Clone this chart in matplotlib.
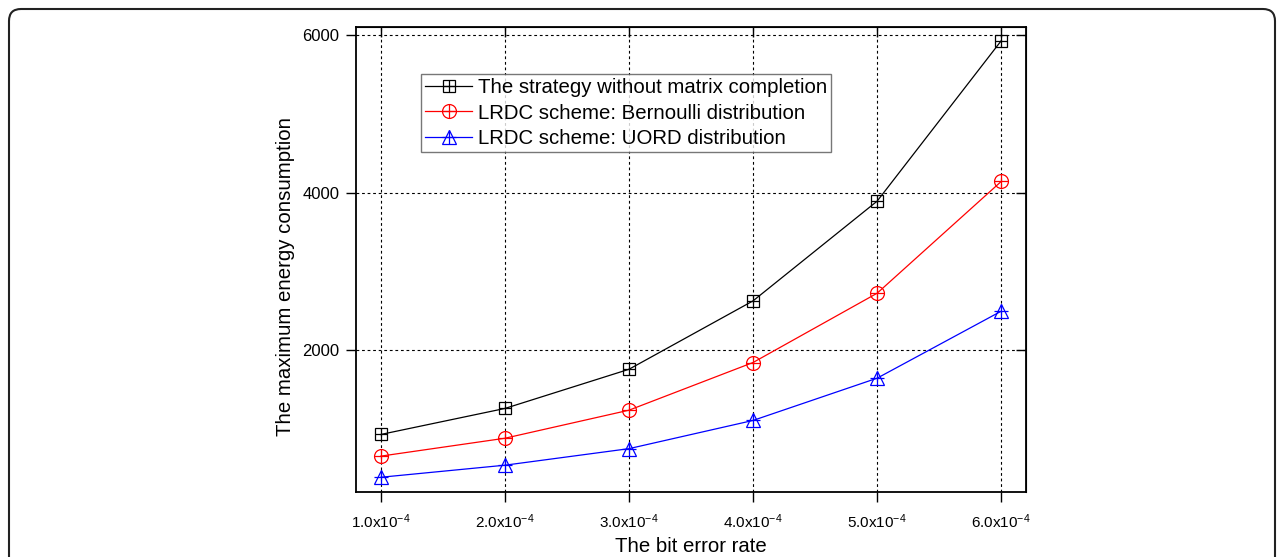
import matplotlib
matplotlib.use("Agg")
import matplotlib.pyplot as plt
from matplotlib.patches import FancyBboxPatch
from matplotlib.legend_handler import HandlerTuple

# ---- data ----
ber = [1.0e-4, 2.0e-4, 3.0e-4, 4.0e-4, 5.0e-4, 6.0e-4]
xtick_labels = [r"1.0x10$^{-4}$", r"2.0x10$^{-4}$", r"3.0x10$^{-4}$",
                r"4.0x10$^{-4}$", r"5.0x10$^{-4}$", r"6.0x10$^{-4}$"]
no_completion = [930, 1260, 1757, 2625, 3890, 5925]
bernoulli = [655, 882, 1238, 1843, 2722, 4140]
uord = [387, 540, 750, 1108, 1644, 2494]
series_names = ["The strategy without matrix completion",
                "LRDC scheme: Bernoulli distribution",
                "LRDC scheme: UORD distribution"]
ytick_vals = [2000, 4000, 6000]

plt.rcParams['font.family'] = ['Liberation Sans', 'DejaVu Sans']
plt.rcParams['mathtext.default'] = 'regular'

fig = plt.figure(figsize=(12.84, 5.57), dpi=100)
ax = fig.add_axes([356/1284, 65/557, (1026-356)/1284, (492-27)/557])

styles = [
    (no_completion, 'black', 's', 8.5),
    (bernoulli, 'red', 'o', 10),
    (uord, 'blue', '^', 10.5),
]
handles = []
for (vals, col, mk, ms) in styles:
    l1, = ax.plot(ber, vals, color=col, lw=0.9, marker=mk, ms=ms,
                  markerfacecolor='none', markeredgecolor=col, markeredgewidth=0.9, zorder=3)
    l2, = ax.plot(ber, vals, linestyle='none', marker='+', ms=ms, color=col,
                  markeredgewidth=0.9, zorder=4)
    handles.append((l1, l2))

ax.set_xlim(0.8e-4, 6.2e-4)
ax.set_ylim(200, 6100)
ax.set_xticks(ber)
ax.set_xticklabels(xtick_labels, fontsize=11)
ax.set_yticks(ytick_vals)
ax.set_yticklabels([str(v) for v in ytick_vals], fontsize=12)
ax.tick_params(direction='out', length=7, width=1.0)
ax.tick_params(axis='x', pad=8)
ax.tick_params(axis='y', pad=5)
ax.grid(True, color='black', linestyle=(0, (2.5, 2.5)), linewidth=0.8)
for s in ax.spines.values():
    s.set_linewidth(1.3)

top = ax.secondary_xaxis('top')
top.set_xticks(ber)
top.tick_params(direction='in', length=7, width=1.0, labeltop=False)
right = ax.secondary_yaxis('right')
right.set_yticks(ytick_vals)
right.tick_params(direction='in', length=7, width=1.0, labelright=False)

ax.set_xlabel("The bit error rate", fontsize=14.7)
ax.xaxis.set_label_coords(0.5, -0.097)
ax.set_ylabel("The maximum energy consumption", fontsize=14.7)
ax.yaxis.set_label_coords(-0.091, 0.4645)

leg = ax.legend(handles, series_names, handler_map={tuple: HandlerTuple(ndivide=1)},
                loc='upper left', bbox_to_anchor=((421-356)/670, (492-74)/465),
                fontsize=14.7, frameon=True, fancybox=False, edgecolor='#555555',
                borderpad=0.2, labelspacing=0.32, handlelength=2.3, handletextpad=0.3,
                borderaxespad=0)
leg.get_frame().set_linewidth(1.0)

border = FancyBboxPatch((0.09, -0.5), 12.66, 5.98,
                        boxstyle="round,pad=0,rounding_size=0.12",
                        transform=fig.dpi_scale_trans, facecolor='none',
                        edgecolor='#222222', linewidth=1.5, clip_on=False)
fig.patches.append(border)

fig.savefig("out.png", dpi=100)
